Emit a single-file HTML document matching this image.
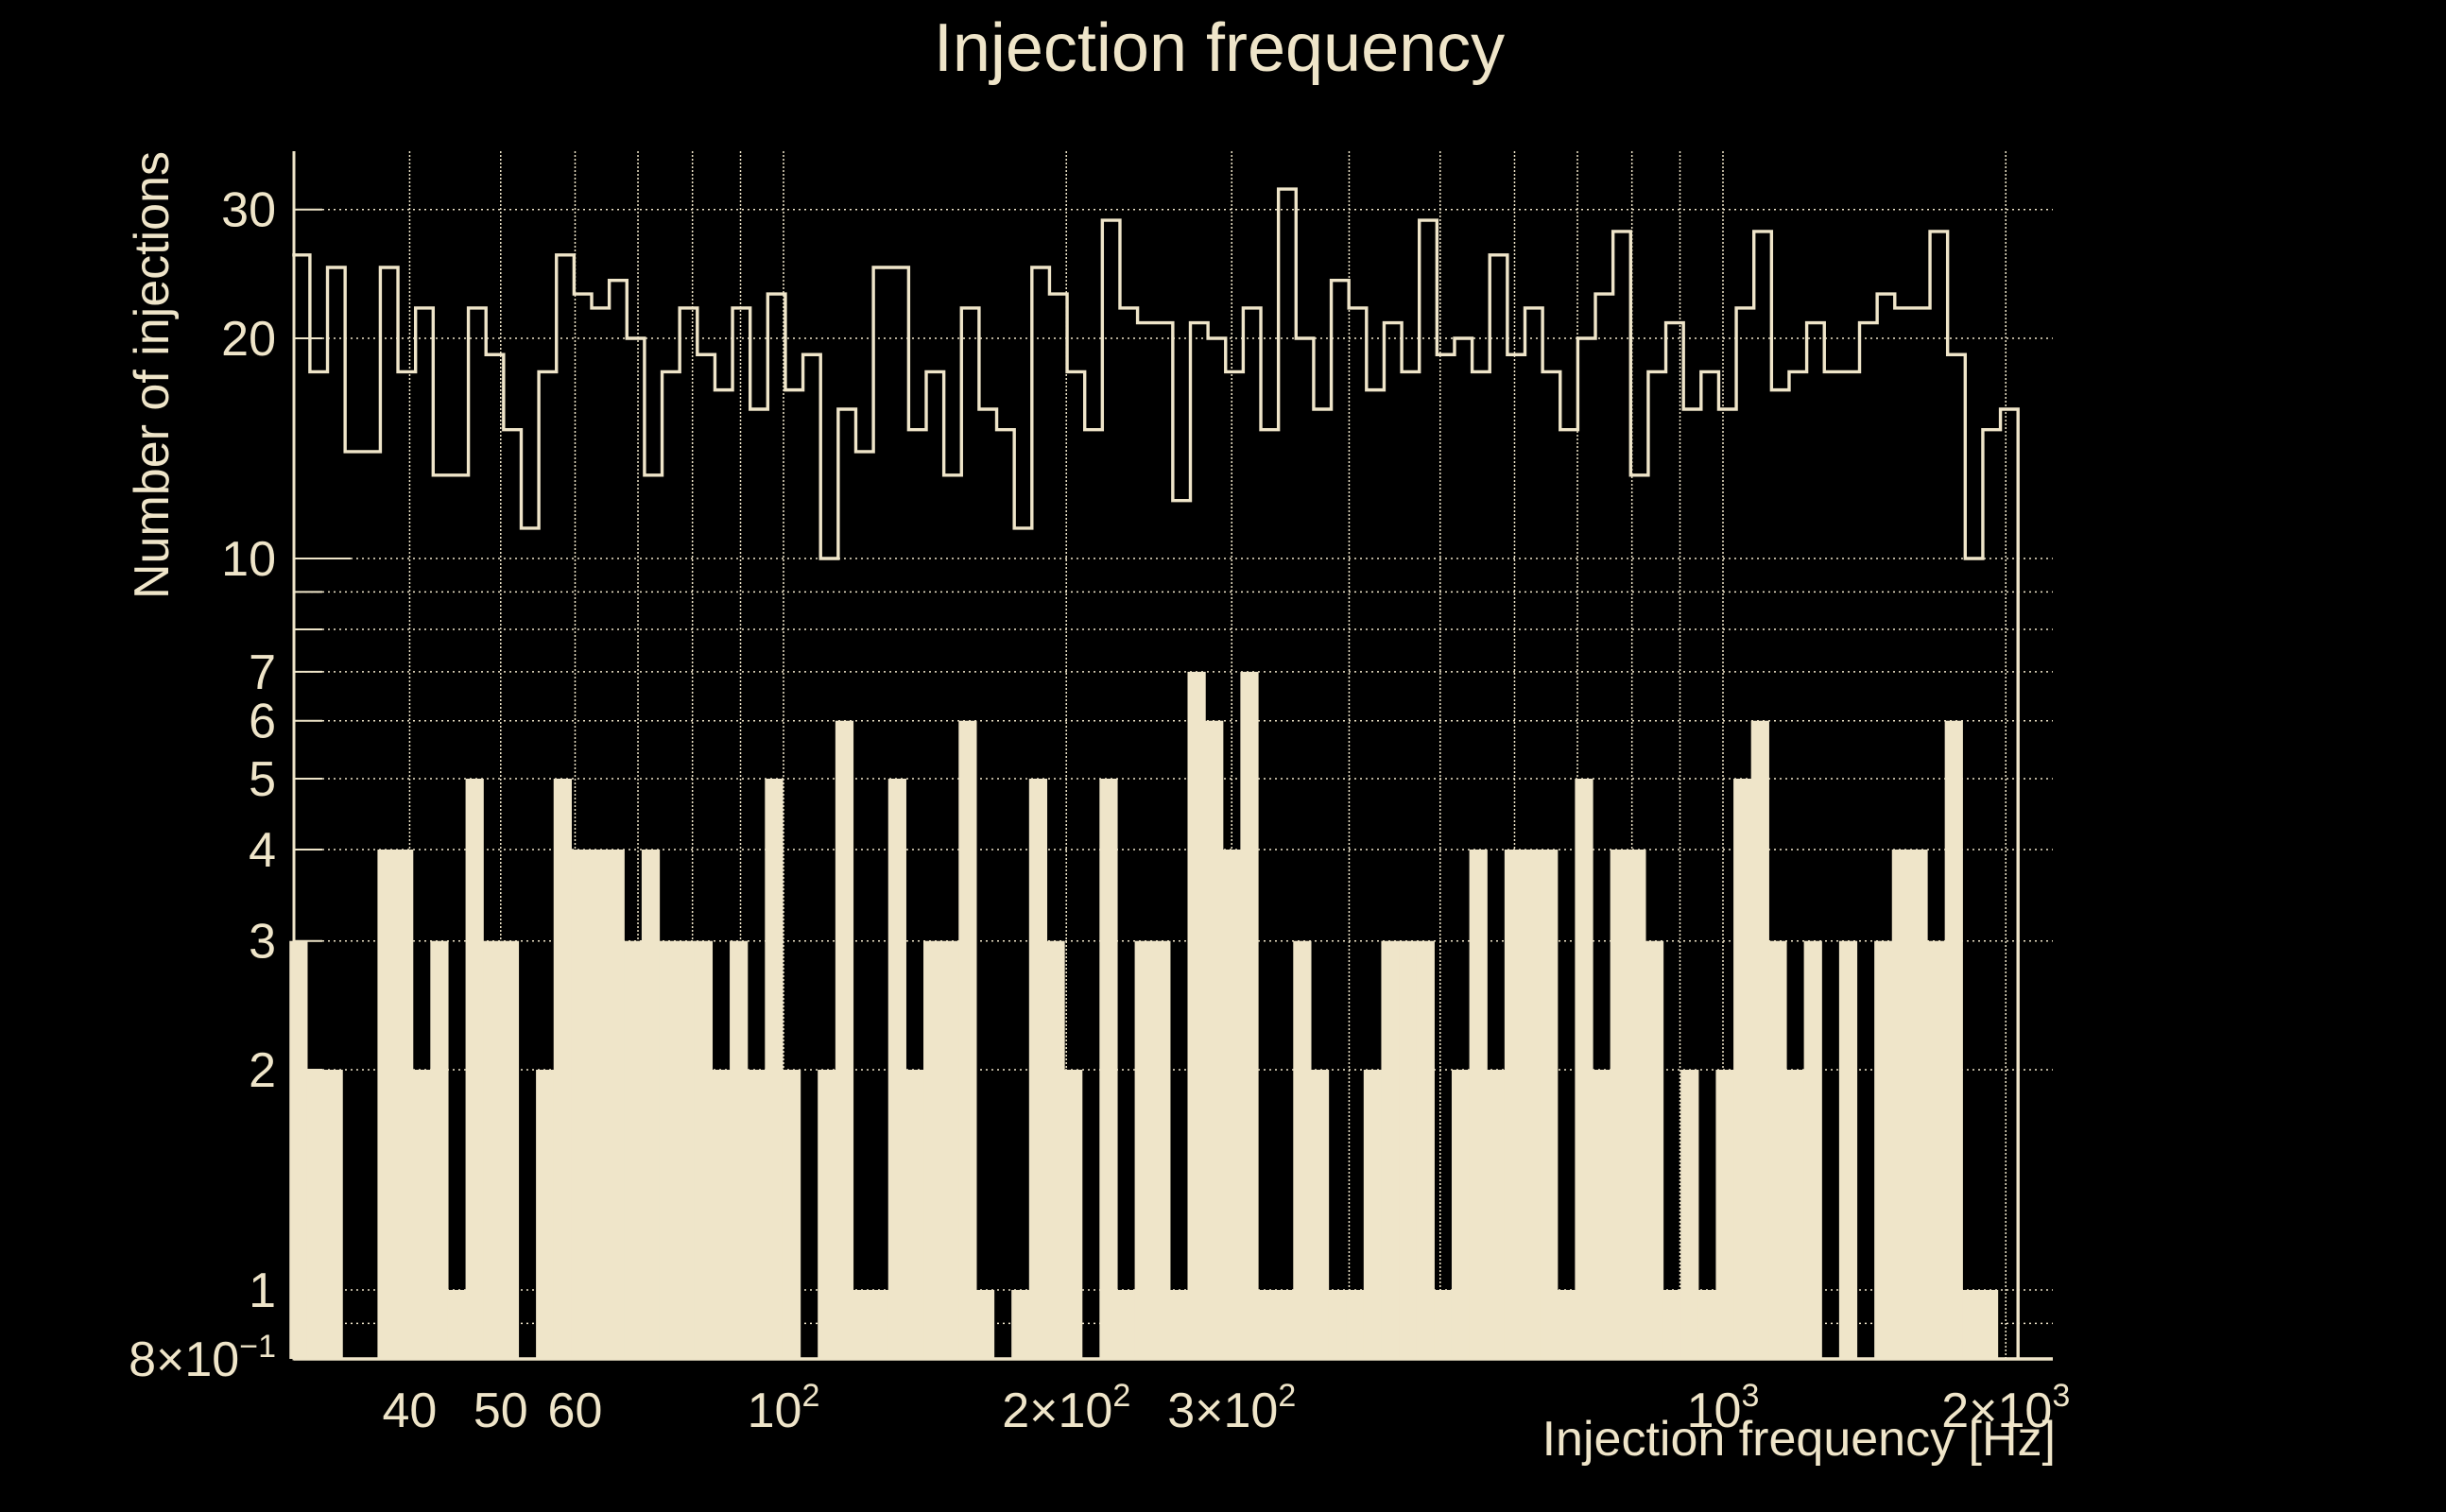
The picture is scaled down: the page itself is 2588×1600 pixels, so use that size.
<!DOCTYPE html>
<html>
<head>
<meta charset="utf-8">
<style>
  html,body{margin:0;padding:0;background:#000;}
  svg{display:block;font-family:"Liberation Sans",Arial,sans-serif;}
</style>
</head>
<body>
<svg id="chart" width="2588" height="1600" viewBox="0 0 2588 1600">
  <rect x="0" y="0" width="2588" height="1600" fill="#000"/>
  <text x="1290" y="75" font-size="72" fill="#efe5c9" text-anchor="middle">Injection frequency</text>
  <g id="grid"></g>
  <g id="bars"></g>
  <path id="line" fill="none" stroke="#efe5c9" stroke-width="3.4"/>
  <g id="axes"></g>
  <text transform="translate(178,160) rotate(-90)" font-size="52" fill="#efe5c9" text-anchor="end">Number of injections</text>
  <text x="2175" y="1540" font-size="52" fill="#efe5c9" text-anchor="end">Injection frequency [Hz]</text>
</svg>
<script>
// ---- data ----
const binCount = 98;
const binLow = 30;      // Hz, first bin edge
const binHigh = 2061;   // Hz, last bin edge
const outlineCounts = [26,18,25,14,14,25,18,22,13,13,22,19,15,11,18,26,23,22,24,20,13,18,22,19,17,
  22,16,23,17,19,10,16,14,25,25,15,18,13,22,16,15,11,25,23,18,15,29,22,21,21,
  12,21,20,18,22,15,32,20,16,24,22,17,21,18,29,19,20,18,26,19,22,18,15,20,23,
  28,13,18,21,16,18,16,22,28,17,18,21,18,18,21,23,22,22,28,19,10,15,16];
const filledCounts = [3,2,2,0,0,4,4,2,3,1,5,3,3,0,2,5,4,4,4,3,4,3,3,3,2,
  3,2,5,2,0,2,6,1,1,5,2,3,3,6,1,0,1,5,3,2,0,5,1,3,3,
  1,7,6,4,7,1,1,3,2,1,1,2,3,3,3,1,2,4,2,4,4,4,1,5,2,
  4,4,3,1,2,1,2,5,6,3,2,3,0,3,0,3,4,4,3,6,1,1,0];
const yTickValues = [30,20,10,7,6,5,4,3,2,1];
const yTickLabels = ["30","20","10","7","6","5","4","3","2","1"];
const yGridValues = [0.9,1,2,3,4,5,6,7,8,9,10,20,30];
const xGridValues = [40,50,60,70,80,90,100,200,300,400,500,600,700,800,900,1000,2000];
const xTickValues = [40,50,60,100,200,300,1000,2000];
const xTickMain = ["40","50","60","10","2\u00d710","3\u00d710","10","2\u00d710"];
const xTickExp = ["","","","2","2","2","3","3"];

// ---- axes ----
const X0 = 311, X1 = 2172, Y0 = 1438, YT = 160;
function xs(v){ return 829 + 994*Math.log10(v/100); }
function ys(v){ return 1365 - 774*Math.log10(v); }
const C = "#efe5c9";
const NS = "http://www.w3.org/2000/svg";
function mk(tag, attrs, parent){
  const e = document.createElementNS(NS, tag);
  for (const k in attrs) e.setAttribute(k, attrs[k]);
  parent.appendChild(e);
  return e;
}
const grid = document.getElementById('grid');
yGridValues.forEach(v=>{
  const l = mk('line',{x1:X0,x2:X1,y1:ys(v),y2:ys(v),stroke:C,'stroke-width':1.5,'stroke-dasharray':'2,4'},grid);
  
  
});
xGridValues.forEach(v=>{
  const l = mk('line',{x1:xs(v),x2:xs(v),y1:YT,y2:Y0,stroke:C,'stroke-width':1.5,'stroke-dasharray':'2,2'},grid);
  
  
});

// bins
const lg0 = Math.log10(binLow), lg1 = Math.log10(binHigh);
function edge(i){ return Math.pow(10, lg0 + (lg1-lg0)*i/binCount); }
const bars = document.getElementById('bars');
filledCounts.forEach((c,i)=>{
  if (c <= 0) return;
  const xa = xs(edge(i)) - 3, xb = xs(edge(i+1)) - 3;
  const y = ys(c);
  const r = mk('rect',{x:xa,y:y,width:xb-xa+0.6,height:Y0-y,fill:C},bars);
  
  
});
let d = '';
outlineCounts.forEach((c,i)=>{
  const xa = xs(edge(i)), xb = xs(edge(i+1)), y = ys(c);
  d += (i===0 ? 'M'+xa+','+y : 'L'+xa+','+y) + 'L'+xb+','+y;
});
d += 'L'+xs(edge(binCount))+','+Y0;
document.getElementById('line').setAttribute('d', d);

// axes lines & ticks
const axes = document.getElementById('axes');
const ya = mk('line',{x1:X0,x2:X0,y1:YT,y2:Y0+1.5,stroke:C,'stroke-width':3},axes);


const xa = mk('line',{x1:X0,x2:X1,y1:Y0,y2:Y0,stroke:C,'stroke-width':3.5},axes);


yGridValues.forEach(v=>{
  const len = (v===10) ? 60 : 30;
  const t = mk('line',{x1:X0,x2:X0+len,y1:ys(v),y2:ys(v),stroke:C,'stroke-width':2},axes);
  
  
});
yTickValues.forEach((v,i)=>{
  const t = mk('text',{x:292,y:ys(v)+18,'font-size':52,fill:C,'text-anchor':'end'},axes);
  t.textContent = yTickLabels[i];
  
  
});
{
  const t = mk('text',{x:292,y:Y0+18,'font-size':52,fill:C,'text-anchor':'end'},axes);
  
  
  t.appendChild(document.createTextNode('8\u00d710'));
  const s = mk('tspan',{dy:-20,'font-size':34},t);
  s.textContent = '\u22121';
}
xTickValues.forEach((v,i)=>{
  const t = mk('text',{x:xs(v),y:1510,'font-size':52,fill:C,'text-anchor':'middle'},axes);
  
  
  t.appendChild(document.createTextNode(xTickMain[i]));
  if (xTickExp[i]) {
    const s = mk('tspan',{dy:-22,'font-size':34},t);
    s.textContent = xTickExp[i];
  }
});
</script>
</body>
</html>
